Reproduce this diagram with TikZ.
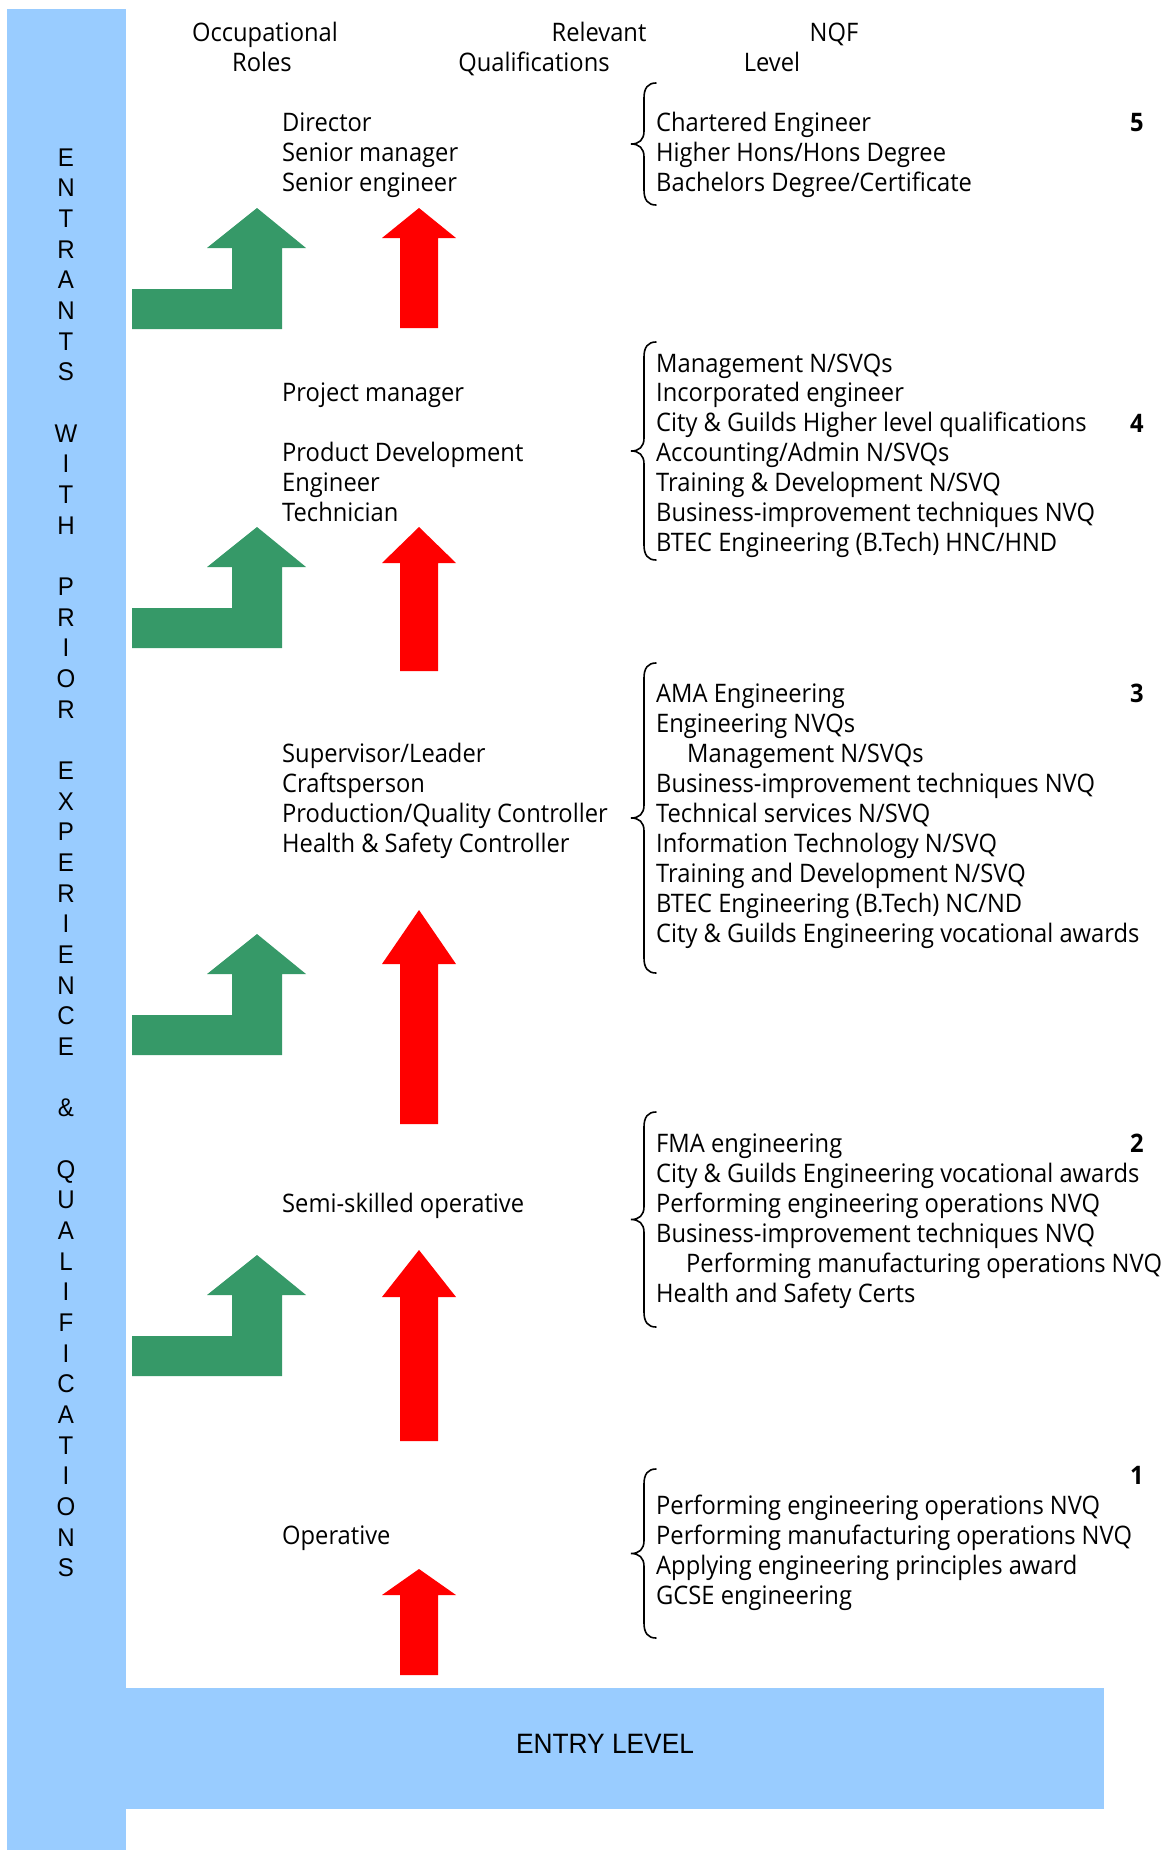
\documentclass[tikz,border=0pt]{standalone}
\usepackage{fontspec}
\setmainfont{Open Sans}[FakeStretch=0.93]
\newfontfamily\arialf{Liberation Sans}[FakeStretch=0.94]
\definecolor{barblue}{RGB}{153,204,255}
\definecolor{arrgreen}{RGB}{54,153,104}
\definecolor{arrred}{RGB}{255,0,0}
\newcommand\garrow[1]{\fill[arrgreen] (132,#1+81) -- (232,#1+81) -- (232,#1+40) -- (207,#1+40) -- (257,#1) -- (306,#1+40) -- (282,#1+40) -- (282,#1+121) -- (132,#1+121) -- cycle;}
\newcommand\rarrow[3]{\fill[arrred] (419,#1) -- (456,#2) -- (438,#2) -- (438,#3) -- (400,#3) -- (400,#2) -- (382,#2) -- cycle;}
\newcommand\qbrace[2]{\pgfmathsetmacro\bmid{(#1+#2)/2}%
\draw[bracestyle] (656,#1) .. controls (648,#1) and (644,#1+5) .. (644,#1+15) -- (644,\bmid-13) .. controls (644,\bmid-4) and (639,\bmid) .. (631,\bmid) .. controls (639,\bmid) and (644,\bmid+4) .. (644,\bmid+13) -- (644,#2-15) .. controls (644,#2-5) and (648,#2) .. (656,#2);}
\begin{document}
\begin{tikzpicture}[x=1pt,y=-1pt,
  txt/.style={font=\fontsize{25.5}{30}\selectfont, inner sep=0pt, anchor=base west, text=black},
  hdr/.style={font=\fontsize{25.5}{30}\selectfont, inner sep=0pt, anchor=base, text=black},
  lvl/.style={font=\fontsize{25.5}{30}\selectfont\bfseries, inner sep=0pt, anchor=base, text=black},
  side/.style={font=\arialf\fontsize{25.6}{30}\selectfont, inner sep=0pt, anchor=base, text=black},
  bracestyle/.style={draw=black, line width=1.6pt, line cap=round}]
\useasboundingbox (0,0) rectangle (1168,1850);
% blue frame
\fill[barblue] (7,9) rectangle (126,1850);
\fill[barblue] (125,1688) rectangle (1104,1809);
\node[font=\arialf\fontsize{28}{30}\selectfont, inner sep=0pt, anchor=base] (entry) at (605,1753) {ENTRY LEVEL};
% side letters
\foreach \ch [count=\i from 0] in {E,N,T,R,A,N,T,S,{},W,I,T,H,{},P,R,I,O,R,{},E,X,P,E,R,I,E,N,C,E,{},\&,{},Q,U,A,L,I,F,I,C,A,T,I,O,N,S}
  \node[side] (s\i) at (66,{166+30.67*\i}) {\ch};
% headers
\node[hdr] (h1) at (265,41) {Occupational};
\node[hdr] (h2) at (262,71) {Roles};
\node[hdr] (h3) at (599,41) {Relevant};
\node[hdr] (h4) at (534,71) {Qualifications};
\node[hdr] (h5) at (834,41) {NQF};
\node[hdr] (h6) at (772,71) {Level};
% arrows
\garrow{208}
\garrow{527}
\garrow{934}
\garrow{1255}
\rarrow{208}{238}{328}
\rarrow{527}{563}{671}
\rarrow{910}{964}{1124}
\rarrow{1250}{1297}{1441}
\rarrow{1569}{1595}{1675}
% roles
\node[txt] (r5a) at (282,131) {Director};
\node[txt] (r5b) at (282,161) {Senior manager};
\node[txt] (r5c) at (282,191) {Senior engineer};
\node[txt] (r4a) at (282,401) {Project manager};
\node[txt] (r4b) at (282,461) {Product Development};
\node[txt] (r4c) at (282,491) {Engineer};
\node[txt] (r4d) at (282,521) {Technician};
\node[txt] (r3a) at (282,762) {Supervisor/Leader};
\node[txt] (r3b) at (282,792) {Craftsperson};
\node[txt] (r3c) at (282,822) {Production/Quality Controller};
\node[txt] (r3d) at (282,852) {Health \& Safety Controller};
\node[txt] (r2) at (282,1212) {Semi-skilled operative};
\node[txt] (r1) at (282,1544) {Operative};
% braces
\qbrace{83}{205}
\qbrace{342}{560}
\qbrace{663}{973}
\qbrace{1112}{1327}
\qbrace{1469}{1638}
% qualifications
\foreach \t [count=\i from 0] in {Chartered Engineer,Higher Hons/Hons Degree,Bachelors Degree/Certificate}
  \node[txt] (qa\i) at (656,{131+30*\i}) {\t};
\foreach \t [count=\i from 0] in {Management N/SVQs,Incorporated engineer,City \& Guilds Higher level qualifications,Accounting/Admin N/SVQs,Training \& Development N/SVQ,Business-improvement techniques NVQ,BTEC Engineering (B.Tech) HNC/HND}
  \node[txt] (qb\i) at (656,{372+29.9*\i}) {\t};
\foreach \t [count=\i from 0] in {AMA Engineering,Engineering NVQs,\hspace*{31pt}Management N/SVQs,Business-improvement techniques NVQ,Technical services N/SVQ,Information Technology N/SVQ,Training and Development N/SVQ,BTEC Engineering (B.Tech) NC/ND,City \& Guilds Engineering vocational awards}
  \node[txt] (qc\i) at (656,{702+30*\i}) {\t};
\foreach \t [count=\i from 0] in {FMA engineering,City \& Guilds Engineering vocational awards,Performing engineering operations NVQ,Business-improvement techniques NVQ,\hspace*{30pt}Performing manufacturing operations NVQ,Health and Safety Certs}
  \node[txt] (qd\i) at (656,{1152+30*\i}) {\t};
\foreach \t [count=\i from 0] in {Performing engineering operations NVQ,Performing manufacturing operations NVQ,Applying engineering principles award,GCSE engineering}
  \node[txt] (qe\i) at (656,{1514+30*\i}) {\t};
% levels
\node[lvl] (l5) at (1137,131) {5};
\node[lvl] (l4) at (1137,432) {4};
\node[lvl] (l3) at (1137,702) {3};
\node[lvl] (l2) at (1137,1152) {2};
\node[lvl] (l1) at (1137,1484) {1};
\end{tikzpicture}
\end{document}
